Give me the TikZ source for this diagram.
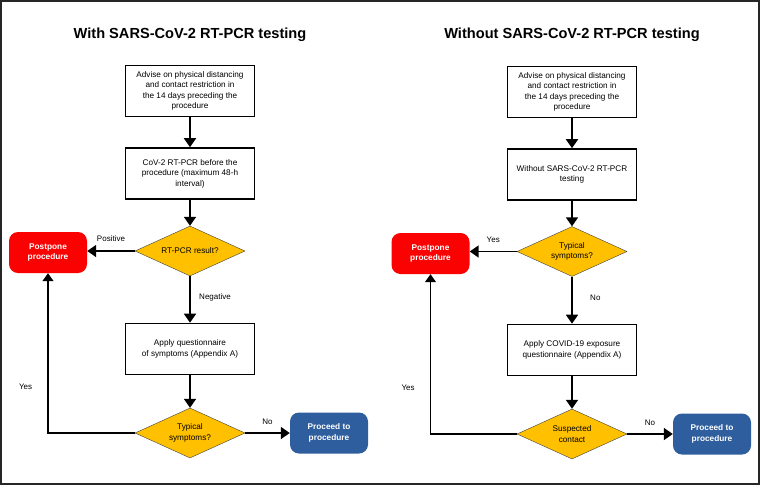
\documentclass[tikz,border=0pt]{standalone}
\usepackage{fontspec}
\setmainfont{Liberation Sans}
\usetikzlibrary{shapes.geometric,arrows.meta}

\definecolor{stopred}{RGB}{250,2,2}
\definecolor{goblue}{RGB}{46,94,158}
\definecolor{askyellow}{RGB}{255,192,0}

\tikzset{
  stepbox/.style={draw, line width=1.6pt, align=center, minimum width=129pt,
    minimum height=51pt, inner sep=2pt, font=\fontsize{8.2}{10.4}\selectfont},
  question/.style={diamond, aspect=2.2, draw=black!75, thin, fill=askyellow,
    minimum width=110pt, minimum height=50pt, inner sep=1pt, align=center,
    font=\fontsize{8.2}{10.4}\selectfont},
  endbox/.style={rounded corners=9pt, text=white, minimum width=78pt,
    minimum height=41pt, align=center, font=\bfseries\fontsize{8.3}{10.4}\selectfont},
  heading/.style={font=\bfseries\fontsize{14.6}{17}\selectfont},
  lbl/.style={font=\fontsize{8}{9}\selectfont},
  flow/.style={line width=1.8pt, -{Triangle[width=12pt,length=9pt]}},
  back/.style={line width=1.2pt, -{Triangle[width=11pt,length=8pt]}}
}

\begin{document}
\begin{tikzpicture}[x=1pt, y=-1pt]
  \useasboundingbox (0,0) rectangle (760,485);
  \draw[line width=1.3pt, black!85] (1,1) rectangle (759,484);

  % with testing
  \node[heading] (titleA) at (190,35) {With SARS-CoV-2 RT-PCR testing};
  \node[stepbox] (adviseA) at (190,91) {Advise on physical distancing\\and contact restriction in\\the 14 days preceding the\\procedure};
  \node[stepbox] (pcrA) at (190,173.5) {CoV-2 RT-PCR before the\\procedure (maximum 48-h\\interval)};
  \node[question] (resultA) at (190,251) {RT-PCR result?};
  \node[endbox, fill=stopred] (postponeA) at (48,252.5) {Postpone\\procedure};
  \node[stepbox] (symqA) at (190,349) {Apply questionnaire\\of symptoms (Appendix A)};
  \node[question] (typicalA) at (190,433) {Typical\\symptoms?};
  \node[endbox, fill=goblue] (proceedA) at (329,433) {Proceed to\\procedure};

  \draw[flow] (adviseA) -- (pcrA);
  \draw[flow] (pcrA) -- (resultA);
  \draw[flow] (resultA.west) -- (resultA.west -| postponeA.east)
    node[lbl, midway, above=5pt] {Positive};
  \draw[flow] (resultA) -- (symqA) node[lbl, midway, right=5pt, yshift=2pt] {Negative};
  \draw[flow] (symqA) -- (typicalA);
  \draw[flow] (typicalA.east) -- (proceedA.west) node[lbl, midway, above=4pt] {No};
  \draw[back] (typicalA.west) -| (postponeA.south) node[lbl, pos=0.645, left=12pt] {Yes};

  % without testing
  \begin{scope}[xshift=383pt]
  \node[heading] (titleB) at (189,35) {Without SARS-CoV-2 RT-PCR testing};
  \node[stepbox] (adviseB) at (189,92) {Advise on physical distancing\\and contact restriction in\\the 14 days preceding the\\procedure};
  \node[stepbox] (notestB) at (189,174.5) {Without SARS-CoV-2 RT-PCR\\testing};
  \node[question] (typicalB) at (189,251.5) {Typical\\symptoms?};
  \node[endbox, fill=stopred] (postponeB) at (47.5,253.5) {Postpone\\procedure};
  \node[stepbox] (expoB) at (189,350) {Apply COVID-19 exposure\\questionnaire (Appendix A)};
  \node[question] (contactB) at (189,434) {Suspected\\contact};
  \node[endbox, fill=goblue] (proceedB) at (329,434) {Proceed to\\procedure};

  \draw[flow] (adviseB) -- (notestB);
  \draw[flow] (notestB) -- (typicalB);
  \draw[flow] (typicalB.west) -- (typicalB.west -| postponeB.east)
    node[lbl, midway, above=5pt] {Yes};
  \draw[flow] (typicalB) -- (expoB) node[lbl, midway, right=14pt, yshift=2pt] {No};
  \draw[flow] (expoB) -- (contactB);
  \draw[flow] (contactB.east) -- (proceedB.west) node[lbl, midway, above=4pt] {No};
  \draw[back] (contactB.west) -| (postponeB.south) node[lbl, pos=0.645, left=12pt] {Yes};
  \end{scope}
\end{tikzpicture}
\end{document}
